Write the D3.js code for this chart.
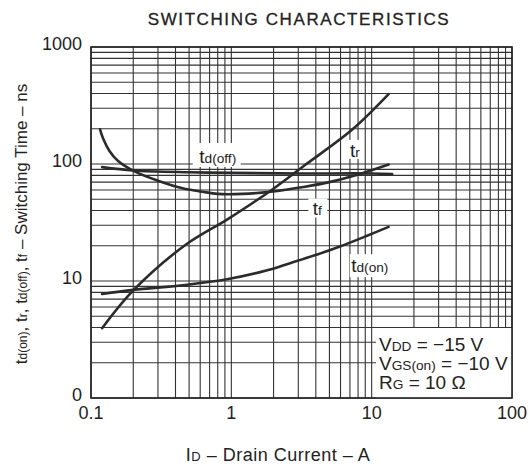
<!DOCTYPE html>
<html>
<head>
<meta charset="utf-8">
<script src="https://d3js.org/d3.v7.min.js"></script>
<style>
body { margin: 0; background: #fff; }
text { font-family: "Liberation Sans", Arial, Helvetica, sans-serif; fill: #222; }
</style>
</head>
<body>
<div id="chart"></div>
<script>

// axis ticks
var xTickValues = [0.1, 1, 10, 100];
var xTickLabels = ["0.1", "1", "10", "100"];
var yTickValues = [1, 10, 100, 1000];
var yTickLabels = ["0", "10", "100", "1000"];

// curves (drain current A, time ns)
var tdOffI = [0.12, 0.2, 0.5, 1, 3, 10, 14];
var tdOffT = [94, 88, 85, 84, 83, 83, 82];

var tfI = [0.116, 0.122, 0.135, 0.156, 0.206, 0.3, 0.45, 0.62, 0.8, 1.2, 1.9, 3.35, 5, 7.8, 13.2];
var tfT = [198, 165, 130, 106, 86, 72, 62, 58, 55.5, 55.5, 58, 64, 70, 80.5, 99];

var trI = [0.12, 0.2, 0.47, 0.95, 1.94, 3.35, 7.2, 13.2];
var trT = [3.95, 8.3, 20.3, 34, 60, 98, 195, 396];

var tdOnI = [0.12, 0.2, 0.47, 0.95, 1.83, 2.62, 4.5, 6, 9, 13.2];
var tdOnT = [7.75, 8.4, 9.25, 10.4, 12.4, 14.2, 17.5, 19.8, 24, 29];

var width = 529,
    height = 468,
    margin = {top: 47, right: 17, bottom: 70, left: 91};

var svg = d3.select("#chart")
    .append("svg")
    .attr("width", width)
    .attr("height", height);

var x = d3.scaleLog().domain([0.1, 100]).range([margin.left, width - margin.right]);
var y = d3.scaleLog().domain([1, 1000]).range([height - margin.bottom, margin.top]);

// grid lines, 1..9 in every decade
var grid = svg.append("g").attr("stroke", "#333").attr("stroke-width", 1.1);
grid.selectAll(".vx")
    .data(x.ticks())
    .enter().append("line")
    .attr("x1", d => x(d)).attr("x2", d => x(d))
    .attr("y1", y(1)).attr("y2", y(1000));
grid.selectAll(".hy")
    .data(y.ticks())
    .enter().append("line")
    .attr("y1", d => y(d)).attr("y2", d => y(d))
    .attr("x1", x(0.1)).attr("x2", x(100));

// white patches behind labels (anchor in data space, offsets in px)
function knockout(xv, yv, dx0, dy0, w, h) {
    svg.append("rect")
        .attr("x", x(xv) + dx0).attr("y", y(yv) + dy0)
        .attr("width", w).attr("height", h)
        .attr("fill", "#fff");
}
knockout(0.8, 102, -25, -20, 48, 24);   // td(off)
knockout(7.6, 115, -8, -17, 16, 19);    // tr
knockout(4.1, 37, -9, -16, 19, 19);     // tf
knockout(9.7, 11.9, -20, -18, 41, 23);  // td(on)
svg.append("rect")
    .attr("x", 376).attr("y", 328)
    .attr("width", x(100) - 376).attr("height", y(1) - 328)
    .attr("fill", "#fff");

// frame
svg.append("rect")
    .attr("x", x(0.1)).attr("y", y(1000))
    .attr("width", x(100) - x(0.1)).attr("height", y(1) - y(1000))
    .attr("fill", "none").attr("stroke", "#222").attr("stroke-width", 1.6);

// curves
var series = [
    {i: tdOffI, t: tdOffT},
    {i: tfI, t: tfT},
    {i: trI, t: trT},
    {i: tdOnI, t: tdOnT}
];
var line = d3.line()
    .x(d => x(d[0]))
    .y(d => y(d[1]))
    .curve(d3.curveCatmullRom.alpha(0.5));
svg.selectAll(".curve")
    .data(series)
    .enter().append("path")
    .attr("fill", "none")
    .attr("stroke", "#2b2b2b")
    .attr("stroke-width", 2.6)
    .attr("stroke-linecap", "round")
    .attr("d", d => line(d.i.map((v, k) => [v, d.t[k]])));

// tick labels
svg.selectAll(".xl")
    .data(xTickValues)
    .enter().append("text")
    .attr("x", d => x(d))
    .attr("y", y(1) + 21)
    .attr("text-anchor", "middle")
    .attr("font-size", 18)
    .text((d, k) => xTickLabels[k]);
svg.selectAll(".yl")
    .data(yTickValues)
    .enter().append("text")
    .attr("x", x(0.1) - 9)
    .attr("y", d => y(d) + 3)
    .attr("text-anchor", "end")
    .attr("font-size", 18)
    .text((d, k) => yTickLabels[k]);

// label with a smaller trailing part
function subLabel(g, big, small, rest, size) {
    g.append("tspan").text(big);
    g.append("tspan").attr("font-size", size * 0.72).text(small);
    if (rest) g.append("tspan").text(rest);
    return g;
}

// curve labels
subLabel(svg.append("text").attr("x", x(0.8)).attr("y", y(102)).attr("text-anchor", "middle").attr("font-size", 19), "t", "d(off)", "", 19);
subLabel(svg.append("text").attr("x", x(7.6)).attr("y", y(115)).attr("text-anchor", "middle").attr("font-size", 19), "t", "r", "", 19);
subLabel(svg.append("text").attr("x", x(4.1)).attr("y", y(37)).attr("text-anchor", "middle").attr("font-size", 19), "t", "f", "", 19);
subLabel(svg.append("text").attr("x", x(9.7)).attr("y", y(11.9)).attr("text-anchor", "middle").attr("font-size", 19), "t", "d(on)", "", 19);

// test conditions
subLabel(svg.append("text").attr("x", 379).attr("y", 351).attr("font-size", 19), "V", "DD", " = \u221215 V", 19);
subLabel(svg.append("text").attr("x", 379).attr("y", 370).attr("font-size", 19), "V", "GS(on)", " = \u221210 V", 19);
subLabel(svg.append("text").attr("x", 379).attr("y", 389).attr("font-size", 19), "R", "G", " = 10 \u03A9", 19);

// title
svg.append("text")
    .attr("x", 299).attr("y", 25)
    .attr("text-anchor", "middle")
    .attr("font-size", 17)
    .attr("letter-spacing", 1.6)
    .attr("stroke", "#222").attr("stroke-width", 0.3)
    .text("SWITCHING CHARACTERISTICS");

// axis titles
subLabel(svg.append("text").attr("x", 278).attr("y", 461).attr("text-anchor", "middle").attr("font-size", 18).attr("letter-spacing", 0.5), "I", "D", " \u2013 Drain Current \u2013 A", 18);

var yt = svg.append("text")
    .attr("transform", "translate(27,224) rotate(-90)")
    .attr("text-anchor", "middle")
    .attr("font-size", 17);
yt.append("tspan").text("t");
yt.append("tspan").attr("font-size", 12).text("d(on)");
yt.append("tspan").text(", t");
yt.append("tspan").attr("font-size", 12).text("r");
yt.append("tspan").text(", t");
yt.append("tspan").attr("font-size", 12).text("d(off)");
yt.append("tspan").text(", t");
yt.append("tspan").attr("font-size", 12).text("f");
yt.append("tspan").text(" \u2013 Switching Time \u2013 ns");

</script>
</body>
</html>
